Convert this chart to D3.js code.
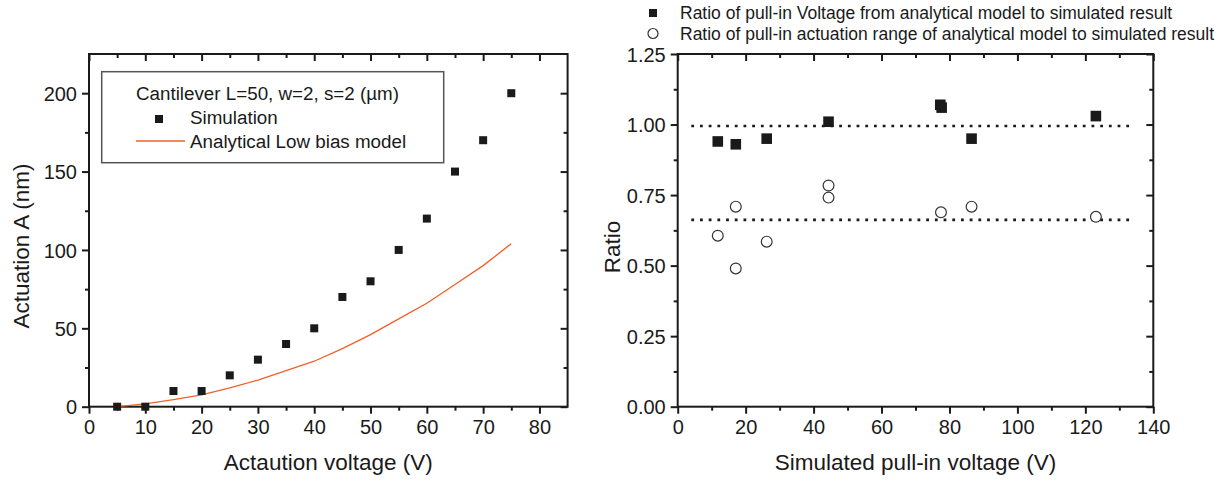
<!DOCTYPE html>
<html>
<head>
<meta charset="utf-8">
<script src="https://cdn.jsdelivr.net/npm/d3@7"></script>
<style>
  body { margin: 0; background: #fff; }
  svg text { font-family: "Liberation Sans", Arial, sans-serif; fill: #1a1a1a; }
</style>
</head>
<body>
<svg id="chart" width="1227" height="481"></svg>
<script>
(function () {
    'use strict';

    // left panel: actuation vs voltage
    var simVoltage = [5, 10, 15, 20, 25, 30, 35, 40, 45, 50, 55, 60, 65, 70, 75];
    var simActuation = [0, 0, 10, 10, 20, 30, 40, 50, 70, 80, 100, 120, 150, 170, 200];
    var modelVoltage = [5, 10, 15, 20, 25, 30, 35, 40, 45, 50, 55, 60, 65, 70, 75];
    var modelActuation = [0, 1.8, 4.5, 7.5, 12, 17, 23, 29, 37, 46, 56, 66, 78, 90, 104];
    var leftXTicks = [0, 10, 20, 30, 40, 50, 60, 70, 80];
    var leftYTicks = [0, 50, 100, 150, 200];

    // right panel: ratios vs simulated pull-in voltage
    var voltPullIn = [11.8, 17.1, 26.2, 44.4, 77.3, 77.7, 86.5, 123.1];
    var voltRatio = [0.94, 0.93, 0.95, 1.01, 1.07, 1.06, 0.95, 1.03];
    var rangePullIn = [11.8, 17.1, 17.1, 26.2, 44.4, 44.4, 77.5, 86.5, 123.1];
    var rangeRatio = [0.606, 0.709, 0.490, 0.585, 0.784, 0.741, 0.689, 0.709, 0.673];
    var refLevels = [0.995, 0.662];
    var refSpan = [4, 134];
    var rightXTicks = [0, 20, 40, 60, 80, 100, 120, 140];
    var rightYTicks = [0, 0.25, 0.5, 0.75, 1.0, 1.25];

    var lineColor = '#f0602a';
    var ink = '#1a1a1a';

    var svg = d3.select('#chart');

    function drawFrame(g, x, y, opts) {
        var x0 = x.range()[0], x1 = x.range()[1];
        var y0 = y.range()[0], y1 = y.range()[1];

        // minor ticks
        g.append('g').attr('transform', 'translate(0,' + y0 + ')')
            .call(d3.axisBottom(x).tickValues(opts.xMinor).tickSize(4).tickFormat('').tickSizeOuter(0));
        g.append('g').attr('transform', 'translate(0,' + y1 + ')')
            .call(d3.axisBottom(x).tickValues(opts.xMinor).tickSize(4).tickFormat('').tickSizeOuter(0));
        g.append('g').attr('transform', 'translate(' + x0 + ',0)')
            .call(d3.axisLeft(y).tickValues(opts.yMinor).tickSize(4).tickFormat('').tickSizeOuter(0));
        g.append('g').attr('transform', 'translate(' + x1 + ',0)')
            .call(d3.axisLeft(y).tickValues(opts.yMinor).tickSize(4).tickFormat('').tickSizeOuter(0));

        // major ticks
        var bottom = g.append('g').attr('transform', 'translate(0,' + y0 + ')')
            .call(d3.axisBottom(x).tickValues(opts.xTicks).tickSize(7).tickPadding(6).tickSizeOuter(0));
        g.append('g').attr('transform', 'translate(0,' + y1 + ')')
            .call(d3.axisBottom(x).tickValues(opts.xTicks).tickSize(7).tickFormat('').tickSizeOuter(0));
        var left = g.append('g').attr('transform', 'translate(' + x0 + ',0)')
            .call(d3.axisLeft(y).tickValues(opts.yTicks).tickSize(7).tickPadding(5)
                .tickFormat(opts.yFormat).tickSizeOuter(0));
        g.append('g').attr('transform', 'translate(' + x1 + ',0)')
            .call(d3.axisLeft(y).tickValues(opts.yTicks).tickSize(7).tickFormat('').tickSizeOuter(0));

        g.selectAll('.domain').remove();
        g.selectAll('.tick line').attr('stroke', ink).attr('stroke-width', 2);
        bottom.selectAll('.tick text').attr('font-size', 20).attr('font-family', null);
        left.selectAll('.tick text').attr('font-size', 20).attr('font-family', null).attr('dy', '0.36em');

        g.append('rect')
            .attr('x', x0).attr('y', y1)
            .attr('width', x1 - x0).attr('height', y0 - y1)
            .attr('fill', 'none').attr('stroke', ink).attr('stroke-width', 2);
    }

    // ---------- left panel ----------
    var xL = d3.scaleLinear().domain([0, 85]).range([89, 567.6]);
    var yL = d3.scaleLinear().domain([0, 225]).range([406.7, 54]);
    var gL = svg.append('g');

    drawFrame(gL, xL, yL, {
        xTicks: leftXTicks,
        xMinor: d3.range(5, 85, 10),
        yTicks: leftYTicks,
        yMinor: d3.range(25, 225, 50),
        yFormat: d3.format('d')
    });

    var modelPts = modelVoltage.map(function (v, i) { return [v, modelActuation[i]]; });
    gL.append('path')
        .datum(modelPts)
        .attr('d', d3.line().x(function (d) { return xL(d[0]); }).y(function (d) { return yL(d[1]); }))
        .attr('fill', 'none').attr('stroke', lineColor).attr('stroke-width', 1.3);

    gL.selectAll('rect.sim')
        .data(simVoltage)
        .enter().append('rect')
        .attr('class', 'sim')
        .attr('x', function (d) { return xL(d) - 4; })
        .attr('y', function (d, i) { return yL(simActuation[i]) - 4; })
        .attr('width', 8).attr('height', 8)
        .attr('fill', ink);

    // legend box
    var lg = gL.append('g');
    lg.append('rect').attr('x', 101.7).attr('y', 71.7).attr('width', 342).attr('height', 91)
        .attr('fill', '#fff').attr('stroke', '#555').attr('stroke-width', 1.5);
    lg.append('text').attr('x', 136).attr('y', 99.5).attr('font-size', 18.8)
        .text('Cantilever L=50, w=2, s=2 (\u00b5m)');
    lg.append('rect').attr('x', 155).attr('y', 115).attr('width', 8).attr('height', 8).attr('fill', ink);
    lg.append('text').attr('x', 190).attr('y', 123.5).attr('font-size', 18.8).text('Simulation');
    lg.append('line').attr('x1', 136).attr('x2', 185).attr('y1', 141).attr('y2', 141)
        .attr('stroke', lineColor).attr('stroke-width', 1.3);
    lg.append('text').attr('x', 190).attr('y', 147.5).attr('font-size', 18.8).text('Analytical Low bias model');

    svg.append('text').attr('x', (89 + 567.6) / 2).attr('y', 470).attr('text-anchor', 'middle')
        .attr('font-size', 22.5).text('Actaution voltage (V)');
    svg.append('text').attr('transform', 'translate(29,246) rotate(-90)').attr('text-anchor', 'middle')
        .attr('font-size', 22.5).text('Actuation A (nm)');

    // ---------- right panel ----------
    var xR = d3.scaleLinear().domain([0, 140]).range([677.7, 1153.3]);
    var yR = d3.scaleLinear().domain([0, 1.25]).range([406.7, 54]);
    var gR = svg.append('g');

    drawFrame(gR, xR, yR, {
        xTicks: rightXTicks,
        xMinor: d3.range(10, 140, 20),
        yTicks: rightYTicks,
        yMinor: d3.range(0.125, 1.25, 0.25),
        yFormat: d3.format('.2f')
    });

    gR.selectAll('line.ref')
        .data(refLevels)
        .enter().append('line')
        .attr('class', 'ref')
        .attr('x1', xR(refSpan[0])).attr('x2', xR(refSpan[1]))
        .attr('y1', function (d) { return yR(d); }).attr('y2', function (d) { return yR(d); })
        .attr('stroke', ink).attr('stroke-width', 2.6).attr('stroke-dasharray', '2.8 5.9');

    gR.selectAll('circle.range')
        .data(rangePullIn)
        .enter().append('circle')
        .attr('class', 'range')
        .attr('cx', function (d) { return xR(d); })
        .attr('cy', function (d, i) { return yR(rangeRatio[i]); })
        .attr('r', 5.4)
        .attr('fill', '#fff').attr('stroke', '#333').attr('stroke-width', 1.2);

    gR.selectAll('rect.volt')
        .data(voltPullIn)
        .enter().append('rect')
        .attr('class', 'volt')
        .attr('x', function (d) { return xR(d) - 5.3; })
        .attr('y', function (d, i) { return yR(voltRatio[i]) - 5.3; })
        .attr('width', 10.6).attr('height', 10.6)
        .attr('fill', ink);

    var rl = svg.append('g');
    rl.append('rect').attr('x', 649).attr('y', 9).attr('width', 8).attr('height', 8).attr('fill', ink);
    rl.append('text').attr('x', 680).attr('y', 18.5).attr('font-size', 17.5)
        .text('Ratio of pull-in Voltage from analytical model to simulated result');
    rl.append('circle').attr('cx', 653).attr('cy', 33.5).attr('r', 5)
        .attr('fill', '#fff').attr('stroke', '#333').attr('stroke-width', 1.2);
    rl.append('text').attr('x', 680).attr('y', 39.5).attr('font-size', 17.5)
        .text('Ratio of pull-in actuation range of analytical model to simulated result');

    svg.append('text').attr('x', (677.7 + 1153.3) / 2).attr('y', 470).attr('text-anchor', 'middle')
        .attr('font-size', 22.5).text('Simulated pull-in voltage (V)');
    svg.append('text').attr('transform', 'translate(620,247) rotate(-90)').attr('text-anchor', 'middle')
        .attr('font-size', 22.5).text('Ratio');
})();
</script>
</body>
</html>
